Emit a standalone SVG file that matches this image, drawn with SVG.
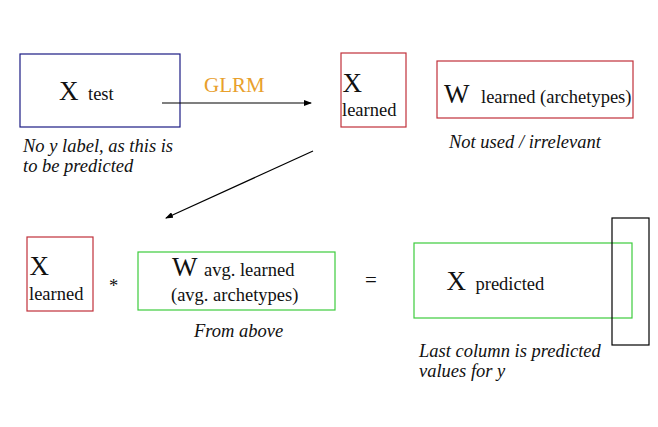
<svg xmlns="http://www.w3.org/2000/svg" width="658" height="427" viewBox="0 0 658 427" font-family="'Liberation Serif', 'DejaVu Serif', serif">
<defs>
<marker id="ah" markerWidth="8" markerHeight="6" refX="7" refY="3" orient="auto" markerUnits="userSpaceOnUse">
<path d="M0,0 L8,3 L0,6 z" fill="#000"/>
</marker>
<style>
.big{font-size:27px}
.sub{font-size:18.5px}
.it{font-size:18.5px;font-style:italic}
.box{fill:none;stroke-width:1.2}
.blue{stroke:#1c1c84}
.red{stroke:#c0303a}
.green{stroke:#3ccc3c}
.blk{stroke:#000}
.conn{stroke:#000;stroke-width:1.2;fill:none}
</style>
</defs>
<rect width="658" height="427" fill="#fff"/>
<g id="x-test">
<rect class="box blue" x="20" y="54" width="160" height="73"/>
<text y="100" fill="#111"><tspan class="big" x="59">X</tspan><tspan class="sub" x="88">test</tspan></text>
<text class="it" x="23" y="152" fill="#111">No y label, as this is</text>
<text class="it" x="23" y="172" fill="#111">to be predicted</text>
</g>
<g id="x-learned-top">
<rect class="box red" x="341" y="53" width="65" height="74"/>
<text class="big" x="342.5" y="92" fill="#111">X</text>
<text class="sub" x="342" y="116" fill="#111">learned</text>
</g>
<g id="w-learned">
<rect class="box red" x="437" y="61" width="196" height="57"/>
<text y="103" fill="#111"><tspan class="big" x="444">W</tspan><tspan class="sub" x="481">learned (archetypes)</tspan></text>
<text class="it" x="449" y="148" fill="#111">Not used / irrelevant</text>
</g>
<g id="x-learned-bottom">
<rect class="box red" x="27" y="237" width="66" height="74"/>
<text class="big" x="29.5" y="275" fill="#111">X</text>
<text class="sub" x="29" y="300" fill="#111">learned</text>
</g>
<g id="times">
<text class="sub" x="109" y="292" fill="#111">*</text>
</g>
<g id="w-avg">
<rect class="box green" x="138" y="252" width="197" height="58"/>
<text y="276" fill="#111"><tspan class="big" x="172">W</tspan><tspan class="sub" x="204">avg. learned</tspan></text>
<text class="sub" x="171" y="301" fill="#111">(avg. archetypes)</text>
<text class="it" x="194" y="337" fill="#111">From above</text>
</g>
<g id="equals">
<text x="365" y="287" font-size="21" fill="#111">=</text>
</g>
<g id="x-predicted">
<rect class="box green" x="414" y="243" width="218" height="75"/>
<text y="290" fill="#111"><tspan class="big" x="446.5">X</tspan><tspan class="sub" x="475.5">predicted</tspan></text>
<text class="it" x="419" y="357" fill="#111">Last column is predicted</text>
<text class="it" x="419" y="377" fill="#111">values for y</text>
</g>
<g id="last-column">
<rect class="box blk" x="612" y="218" width="37" height="127"/>
</g>
<g id="connectors">
<line class="conn" x1="162" y1="103" x2="311" y2="103" marker-end="url(#ah)"/>
<text x="204" y="92" font-size="21" fill="#e8a02c">GLRM</text>
<line class="conn" x1="313" y1="151" x2="166" y2="218" marker-end="url(#ah)"/>
</g>
</svg>
